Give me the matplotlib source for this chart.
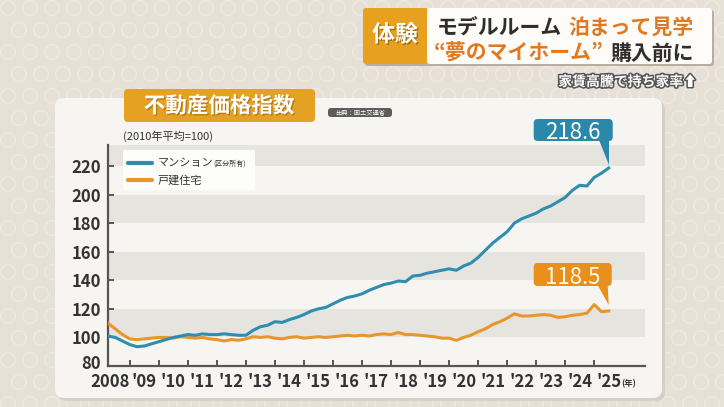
import numpy as np
import matplotlib.pyplot as plt
from matplotlib.patches import FancyBboxPatch, Polygon
from matplotlib.lines import Line2D
from matplotlib.transforms import IdentityTransform, ScaledTranslation
import matplotlib.patheffects as pe

plt.rcParams['font.family'] = ['Noto Sans CJK JP', 'DejaVu Sans']

W, H = 724, 407

# --- Data: 不動産価格指数 (2010年平均=100), quarterly readings from 2008 Q2 ---
start_year = 2008.25
mansion = [101, 100, 97.5,
           95, 93.5, 94, 95.5,
           97, 98.5, 100, 101,
           102, 101.5, 102.5, 102,
           102, 102.5, 102, 101.5,
           101.5, 105, 107.5, 108.5,
           111, 110.5, 112.5, 114,
           116, 118.5, 120, 121,
           123.5, 126, 128, 129,
           130.5, 133, 135, 137,
           138, 139.5, 139, 143,
           143.5, 145, 146, 147,
           148, 147, 150, 152,
           156, 161, 166, 170,
           174, 180, 183, 185,
           187, 190, 192, 195,
           198, 203, 206.5, 206,
           212, 215, 218.6]
detached = [110, 106, 102,
            99, 98.5, 99, 99.5,
            100, 100, 99.5, 100.5,
            100, 99.5, 100, 99,
            98.5, 97.5, 98.5, 98,
            99, 100.5, 100, 100.5,
            99.5, 99, 100, 100.5,
            99.5, 100, 100.5, 100,
            100.5, 101, 101.5, 101,
            101.5, 101, 102, 102.5,
            102, 103.5, 102, 102,
            101.5, 101, 100.5, 99.5,
            99.5, 98, 100, 101.5,
            104, 106, 109, 111,
            113.5, 116.5, 115, 115,
            115.5, 116, 115.5, 114,
            114.5, 115.5, 116, 117,
            123, 118, 118.5]
years = np.arange(len(mansion)) * 0.25 + start_year

year_ticks = list(range(2009, 2026))
year_labels = ['2008'] + ["'%02d" % (y % 100) for y in year_ticks]
y_ticks = [80, 100, 120, 140, 160, 180, 200, 220]
series_names = ['マンション', '戸建住宅']

# --- Colours ---
BG = '#e6e0d6'
RING = '#eeeae3'
PANEL = '#f6f5f1'
BAND = '#e6e4df'
BLUE = '#2f8db0'
ORANGE = '#e8962c'
BLUE_BOX = '#2a88ab'
ORANGE_BOX = '#e88f1c'
GOLD = '#e4a123'
INK = '#333333'
AXIS = '#555555'

fig = plt.figure(figsize=(W / 100, H / 100), dpi=100, facecolor=BG)
PIX = IdentityTransform()


def rbox(x0, y0, x1, y1, fc, r=4, z=1, ec='none'):
    # pixel coords, top-left origin
    p = FancyBboxPatch((x0, H - y1), x1 - x0, y1 - y0,
                       boxstyle=f'round,pad=0,rounding_size={r}',
                       fc=fc, ec=ec, transform=PIX, zorder=z)
    fig.add_artist(p)
    return p


def ptext(x, y, s, **kw):
    return fig.text(x / W, 1 - y / H, s, **kw)


# background ring pattern
bg = fig.add_axes([0, 0, 1, 1], zorder=-10)
bg.set_xlim(0, W)
bg.set_ylim(H, 0)
bg.axis('off')
gx, gy = np.meshgrid(np.arange(8, W, 22), np.arange(8, H, 22))
gx = gx + (np.arange(gx.shape[0])[:, None] % 2) * 11
bg.scatter(gx.ravel(), gy.ravel(), s=110, facecolors='none', edgecolors=RING, linewidths=1.1)

# chart panel
rbox(58, 101, 665, 401, '#d6cfc4', r=9, z=-3)
rbox(55, 98, 662, 398, PANEL, r=9, z=-2)

# --- Axes ---
ax = fig.add_axes([108 / W, 1 - 366 / H, 537 / W, 221 / H])
ax.set_facecolor('none')
ax.set_xlim(start_year, 2026.75)
ax.set_ylim(80, 234.7)
for lo, hi in [(100, 120), (140, 160), (180, 200), (220, 240)]:
    ax.axhspan(lo, hi, color=BAND, lw=0, zorder=0)

ax.plot(years, detached, color=ORANGE, lw=2.2, zorder=3, solid_joinstyle='round')
ax.plot(years, mansion, color=BLUE, lw=2.2, zorder=4, solid_joinstyle='round')

for s in ['top', 'right']:
    ax.spines[s].set_visible(False)
for s in ['left', 'bottom']:
    ax.spines[s].set_color(AXIS)
    ax.spines[s].set_linewidth(1.6)

ax.set_yticks(y_ticks)
ax.set_yticklabels([str(v) for v in y_ticks])
ax.set_xticks(year_ticks)
ax.set_xticklabels([])
ax.set_xticks([2008.32] + [y + 0.5 for y in year_ticks], minor=True)
ax.set_xticklabels(year_labels, minor=True)
ax.tick_params(axis='both', which='major', direction='in', length=4, width=1.4,
               color=AXIS, labelsize=12, labelcolor=INK)
ax.tick_params(axis='y', pad=5)
ax.tick_params(axis='x', which='minor', length=0, labelsize=12, labelcolor=INK, pad=5)
for lab in ax.get_yticklabels() + ax.get_xticklabels(minor=True):
    lab.set_fontweight('bold')

# lift the "80" a touch so it clears "2008"
lab80 = ax.get_yticklabels()[0]
lab80.set_transform(lab80.get_transform() + ScaledTranslation(0, 3 / 72, fig.dpi_scale_trans))

ptext(621, 384, '(年)', fontsize=6, color=INK, va='center', ha='left', fontweight='bold')

# --- Callouts at the latest values ---
fig.canvas.draw()


def callout(xv, yv, label, color, dx, dy, w, h, tip_gap):
    px, py = ax.transData.transform((xv, yv))
    cx, cy = px + dx, py + dy
    box = FancyBboxPatch((cx - w / 2, cy - h / 2), w, h,
                         boxstyle='round,pad=0,rounding_size=4',
                         fc=color, ec='none', transform=PIX, zorder=6)
    fig.add_artist(box)
    tail = Polygon([(cx + w / 2 - 14, cy - h / 2 + 1), (cx + w / 2 - 4, cy - h / 2 + 1),
                    (px, py + tip_gap)], closed=True, fc=color, ec='none',
                   transform=PIX, zorder=6)
    fig.add_artist(tail)
    fig.text(cx / W, cy / H, label, transform=fig.transFigure, ha='center',
             va='center_baseline', fontsize=16, color='#fffbef', zorder=7)


callout(years[-1], mansion[-1], f'{mansion[-1]:.1f}', BLUE_BOX, -35.5, 38, 79, 22, 3)
callout(years[-1], detached[-1], f'{detached[-1]:.1f}', ORANGE_BOX, -36, 36.5, 78, 23, 6)

# --- Legend (manual, mixed font sizes) ---
rbox(123, 150, 255, 190, '#fdfdfb', r=2, z=2)
for yy, c in [(163, BLUE), (180, ORANGE)]:
    fig.add_artist(Line2D([128 / W, 152 / W], [1 - yy / H] * 2, color=c, lw=3,
                          solid_capstyle='round', zorder=3))
ptext(158, 163, series_names[0], fontsize=8, color=INK, va='center', zorder=3)
ptext(213, 164, '(区分所有)', fontsize=5, color=INK, va='center', zorder=3)
ptext(158, 180, series_names[1], fontsize=8, color=INK, va='center', zorder=3)

ptext(123, 136, '(2010年平均=100)', fontsize=8, color=INK, va='center')

# --- Title box ---
rbox(124, 89, 315, 122, GOLD, r=4, z=2)
ptext(219, 106, '不動産価格指数', fontsize=15.5, fontweight='bold', color='white',
      ha='center', va='center', zorder=3,
      path_effects=[pe.withSimplePatchShadow(offset=(1, -1), shadow_rgbFace='#8a5a10', alpha=0.5)])
rbox(328, 108, 392, 117, '#5c5c5c', r=3, z=2)
ptext(360, 112.5, '出典：国土交通省', fontsize=4.5, color='white', ha='center', va='center', zorder=3)

# --- Top banner ---
rbox(365, 10, 714, 66, '#b9ada0', r=3, z=1)
rbox(363, 8, 428, 64, '#e8a11e', r=3, z=2)
rbox(427, 8, 712, 64, '#fdfcf9', r=3, z=2)
ptext(395, 35, '体験', fontsize=16.5, fontweight='bold', color='white', ha='center', va='center', zorder=3,
      path_effects=[pe.withSimplePatchShadow(offset=(1, -1), shadow_rgbFace='#7a4a00', alpha=0.6)])
ptext(437, 27, 'モデルルーム', fontsize=15, fontweight='bold', color='#2e2e2e', va='center', zorder=3)
ptext(694, 27, '泊まって見学', fontsize=15, fontweight='bold', color='#e07a22', va='center', ha='right', zorder=3)
ptext(434, 53, '“夢のマイホーム”', fontsize=15, fontweight='bold', color='#e07a22', va='center', zorder=3)
ptext(694, 53, '購入前に', fontsize=15, fontweight='bold', color='#2e2e2e', va='center', ha='right', zorder=3)
ptext(697, 82, '家賃高騰で持ち家率⬆', fontsize=10, fontweight='bold', color='white', va='center', ha='right',
      zorder=3, path_effects=[pe.withStroke(linewidth=2.2, foreground='#555555')])

fig.savefig('out.png', dpi=100, facecolor=BG)
